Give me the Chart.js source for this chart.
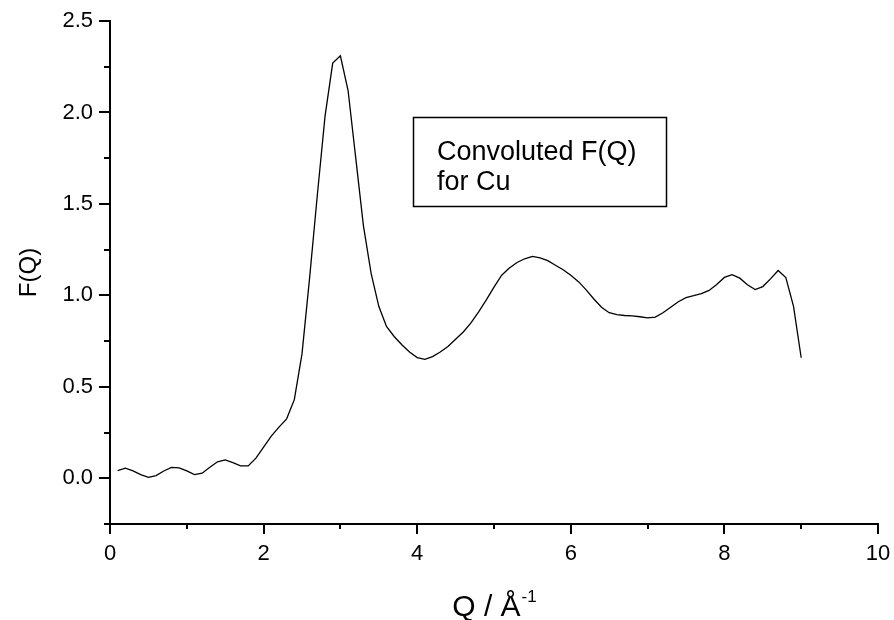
<!DOCTYPE html>
<html>
<head>
<meta charset="utf-8">
<script src="https://cdn.jsdelivr.net/npm/chart.js@4.4.0/dist/chart.umd.min.js"></script>
<style>
  html, body { margin: 0; padding: 0; background: #fff; }
  #wrap { width: 894px; height: 620px; }
</style>
</head>
<body>
<div id="wrap"><canvas id="grafico" width="894" height="620"></canvas></div>
<script>
// Q (1/Å) e F(Q)
const qValores = [
  0.1, 0.2, 0.3, 0.4, 0.5, 0.6, 0.7, 0.8, 0.9, 1.0,
  1.1, 1.2, 1.3, 1.4, 1.5, 1.6, 1.7, 1.8, 1.9, 2.0,
  2.1, 2.2, 2.3, 2.4, 2.5, 2.6, 2.7, 2.8, 2.9, 3.0,
  3.1, 3.2, 3.3, 3.4, 3.5, 3.6, 3.7, 3.8, 3.9, 4.0,
  4.1, 4.2, 4.3, 4.4, 4.5, 4.6, 4.7, 4.8, 4.9, 5.0,
  5.1, 5.2, 5.3, 5.4, 5.5, 5.6, 5.7, 5.8, 5.9, 6.0,
  6.1, 6.2, 6.3, 6.4, 6.5, 6.6, 6.7, 6.8, 6.9, 7.0,
  7.1, 7.2, 7.3, 7.4, 7.5, 7.6, 7.7, 7.8, 7.9, 8.0,
  8.1, 8.2, 8.3, 8.4, 8.5, 8.6, 8.7, 8.8, 8.9, 9.0
];
const fqValores = [
  0.042, 0.055, 0.040, 0.020, 0.005, 0.015, 0.040, 0.060, 0.057, 0.040,
  0.020, 0.028, 0.060, 0.090, 0.100, 0.085, 0.068, 0.068, 0.110, 0.170,
  0.230, 0.280, 0.325, 0.430, 0.680, 1.100, 1.550, 1.980, 2.270, 2.310,
  2.120, 1.750, 1.380, 1.120, 0.940, 0.830, 0.775, 0.730, 0.690, 0.660,
  0.650, 0.665, 0.690, 0.720, 0.760, 0.800, 0.850, 0.910, 0.975, 1.045,
  1.110, 1.150, 1.180, 1.200, 1.213, 1.205, 1.190, 1.165, 1.140, 1.110,
  1.075, 1.030, 0.980, 0.935, 0.905, 0.895, 0.890, 0.888, 0.883, 0.877,
  0.881, 0.905, 0.935, 0.965, 0.988, 0.998, 1.010, 1.027, 1.060, 1.098,
  1.113, 1.094, 1.058, 1.032, 1.048, 1.090, 1.136, 1.097, 0.940, 0.659
];
const xTickLabels = ['0', '2', '4', '6', '8', '10'];
const yTickLabels = ['0.0', '0.5', '1.0', '1.5', '2.0', '2.5'];
const tituloX = 'Q / Å';
const tituloXSup = '-1';
const tituloY = 'F(Q)';
const legendaLinhas = ['Convoluted F(Q)', 'for Cu'];

const fonte = '"Liberation Sans", Arial, sans-serif';

function ehMultiplo(v, passo) {
  return Math.abs(v / passo - Math.round(v / passo)) < 1e-6;
}

// tiques maiores/menores, títulos e caixa de legenda
const extras = {
  id: 'extras',
  afterDraw(chart) {
    const ctx = chart.ctx;
    const sx = chart.scales.x;
    const sy = chart.scales.y;
    const area = chart.chartArea;
    ctx.save();
    ctx.strokeStyle = '#000';
    ctx.lineWidth = 2;
    ctx.beginPath();
    sx.ticks.forEach(t => {
      const px = Math.round(sx.getPixelForValue(t.value));
      const len = ehMultiplo(t.value, 2) ? 10 : 5;
      ctx.moveTo(px, area.bottom);
      ctx.lineTo(px, area.bottom + len);
    });
    sy.ticks.forEach(t => {
      const py = Math.round(sy.getPixelForValue(t.value));
      const len = ehMultiplo(t.value, 0.5) ? 11 : 6;
      ctx.moveTo(area.left, py);
      ctx.lineTo(area.left - len, py);
    });
    ctx.stroke();

    ctx.fillStyle = '#000';
    // título X com expoente
    ctx.font = '30px ' + fonte;
    const w1 = ctx.measureText(tituloX).width;
    ctx.font = '17px ' + fonte;
    const w2 = ctx.measureText(tituloXSup).width;
    const cx = (area.left + area.right) / 2;
    const x0 = cx - (w1 + w2) / 2;
    ctx.textBaseline = 'alphabetic';
    ctx.textAlign = 'left';
    ctx.font = '30px ' + fonte;
    ctx.fillText(tituloX, x0, 616);
    ctx.font = '17px ' + fonte;
    ctx.fillText(tituloXSup, x0 + w1 + 1, 602);

    // título Y
    ctx.save();
    ctx.translate(29, (area.top + area.bottom) / 2);
    ctx.rotate(-Math.PI / 2);
    ctx.font = '24px ' + fonte;
    ctx.textAlign = 'center';
    ctx.textBaseline = 'middle';
    ctx.fillText(tituloY, 0, 0);
    ctx.restore();

    // caixa de legenda
    ctx.lineWidth = 1.5;
    ctx.strokeRect(413.5, 117.5, 253, 89);
    ctx.font = '27px ' + fonte;
    ctx.textAlign = 'left';
    ctx.textBaseline = 'middle';
    ctx.fillText(legendaLinhas[0], 437, 153);
    ctx.fillText(legendaLinhas[1], 437, 183);
    ctx.restore();
  }
};

new Chart(document.getElementById('grafico'), {
  type: 'line',
  data: {
    datasets: [{
      data: qValores.map((q, i) => ({x: q, y: fqValores[i]})),
      borderColor: '#000',
      borderWidth: 1.3,
      pointRadius: 0,
      tension: 0,
      fill: false
    }]
  },
  options: {
    responsive: false,
    animation: false,
    devicePixelRatio: 1,
    layout: {padding: {top: 21, right: 16, left: 0, bottom: 0}},
    plugins: {legend: {display: false}, tooltip: {enabled: false}},
    scales: {
      x: {
        type: 'linear',
        min: 0, max: 10,
        afterFit: s => { s.height = 96; s.paddingRight = 0; s.paddingLeft = 0; },
        ticks: {
          stepSize: 1, autoSkip: false, maxRotation: 0,
          color: '#000', padding: 7,
          font: {family: fonte, size: 22},
          callback: v => ehMultiplo(v, 2) ? xTickLabels[Math.round(v / 2)] : ''
        },
        grid: {display: true, drawOnChartArea: false, drawTicks: true, tickLength: 10, color: 'rgba(0,0,0,0)'},
        border: {display: true, color: '#000', width: 2}
      },
      y: {
        min: -0.25, max: 2.5,
        afterFit: s => { s.width = 110; },
        ticks: {
          stepSize: 0.25, autoSkip: false,
          color: '#000', padding: 6,
          font: {family: fonte, size: 22},
          callback: v => (v >= 0 && ehMultiplo(v, 0.5)) ? yTickLabels[Math.round(v / 0.5)] : ''
        },
        grid: {display: true, drawOnChartArea: false, drawTicks: true, tickLength: 11, color: 'rgba(0,0,0,0)'},
        border: {display: true, color: '#000', width: 2}
      }
    }
  },
  plugins: [extras]
});
</script>
</body>
</html>
